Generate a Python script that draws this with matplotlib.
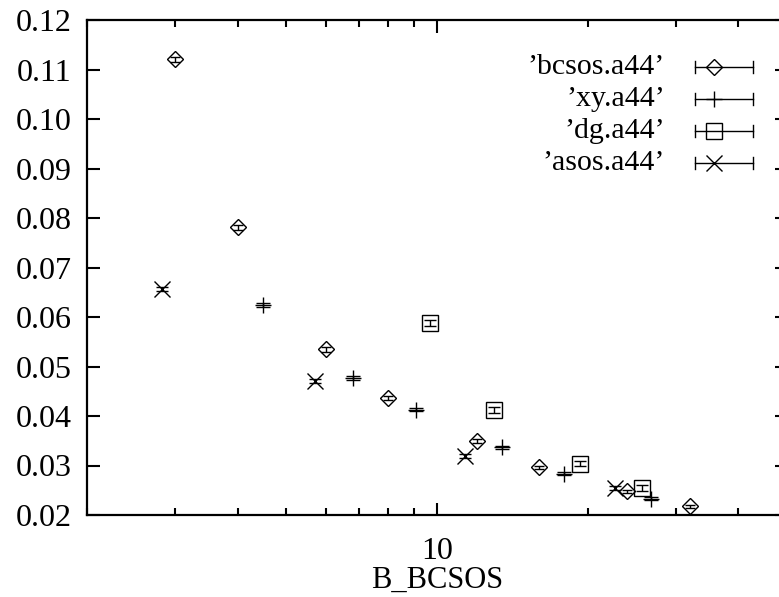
import numpy as np
import matplotlib
matplotlib.use("Agg")
import matplotlib.pyplot as plt
from matplotlib.ticker import LogLocator, NullFormatter, FixedLocator, FormatStrFormatter

plt.rcParams['font.family'] = ['Liberation Serif', 'DejaVu Serif']

# Data
bcsos_x = [3, 4, 6, 8, 12, 16, 24, 32]
bcsos_y = [0.1121, 0.0781, 0.0535, 0.0436, 0.0350, 0.0296, 0.0248, 0.0218]
bcsos_e = [0.0005, 0.0005, 0.0005, 0.0004, 0.0004, 0.0003, 0.0003, 0.0003]

xy_x = [4.5, 6.8, 9.1, 13.5, 17.9, 26.8]
xy_y = [0.0625, 0.0477, 0.0413, 0.0337, 0.0283, 0.0233]
xy_e = [0.0004, 0.0004, 0.0003, 0.0003, 0.0003, 0.0003]

dg_x = [9.7, 13.0, 19.3, 25.7]
dg_y = [0.0588, 0.0412, 0.0304, 0.0254]
dg_e = [0.0006, 0.0006, 0.0006, 0.0006]

asos_x = [2.83, 5.7, 11.4, 22.7]
asos_y = [0.0656, 0.0470, 0.0319, 0.0254]
asos_e = [0.0004, 0.0004, 0.0004, 0.0004]

labels = ["\u2019bcsos.a44\u2019", "\u2019xy.a44\u2019", "\u2019dg.a44\u2019", "\u2019asos.a44\u2019"]
markers = ['D', '+', 's', 'x']
msizes = [8.5, 12, 11, 11]

series = [(bcsos_x, bcsos_y, bcsos_e), (xy_x, xy_y, xy_e),
          (dg_x, dg_y, dg_e), (asos_x, asos_y, asos_e)]

W, H = 779, 597
fig = plt.figure(figsize=(W / 100, H / 100), dpi=100)
# plot area runs past the right edge of the image, like the reference
ax = fig.add_axes([87 / W, 82 / H, 700 / W, 495 / H])

for (xs, ys, es), m, ms in zip(series, markers, msizes):
    ax.errorbar(xs, ys, yerr=es, fmt=m, ms=ms, mfc='none', mec='black',
                mew=1.0, ecolor='black', elinewidth=1.0, capsize=ms * 0.42,
                capthick=1.0, color='black')

ax.set_xscale('log')
ax.set_xlim(2, 50)
ax.set_ylim(0.02, 0.12)
ax.yaxis.set_major_locator(FixedLocator(np.arange(0.02, 0.1201, 0.01)))
ax.yaxis.set_major_formatter(FormatStrFormatter('%.2f'))
ax.xaxis.set_major_locator(FixedLocator([10]))
ax.xaxis.set_major_formatter(FormatStrFormatter('%g'))
ax.xaxis.set_minor_locator(LogLocator(base=10, subs=np.arange(2, 10)))
ax.xaxis.set_minor_formatter(NullFormatter())

ax.tick_params(which='both', direction='in', top=True, right=True,
               labelsize=23, colors='black', width=1.5)
ax.tick_params(which='major', length=9)
ax.tick_params(which='minor', length=5)
ax.tick_params(axis='x', which='major', pad=16)
ax.tick_params(axis='y', which='major', pad=11)
for s in ax.spines.values():
    s.set_linewidth(1.6)

ax.set_xlabel('B_BCSOS', fontsize=22, labelpad=0)

# gnuplot-style key drawn in axes fraction coordinates
def fx(px):
    return (px - 87) / 700

def fy(py):
    return (515 - py) / 495

rows = [67, 99, 131, 163]
for lab, m, ms, row in zip(labels, markers, msizes, rows):
    y = fy(row)
    ax.text(fx(665), y, lab, transform=ax.transAxes, ha='right', va='center',
            fontsize=21.5)
    ax.plot([fx(695), fx(753)], [y, y], color='black', lw=1.0,
            transform=ax.transAxes, clip_on=False)
    for cx in (695, 753):
        ax.plot([fx(cx), fx(cx)], [y - 6 / 495, y + 6 / 495], color='black',
                lw=1.0, transform=ax.transAxes, clip_on=False)
    ax.plot([fx(714)], [y], marker=m, ms=ms, mfc='none', mec='black', mew=1.0,
            transform=ax.transAxes, clip_on=False, linestyle='none')

fig.savefig('out.png', dpi=100)
